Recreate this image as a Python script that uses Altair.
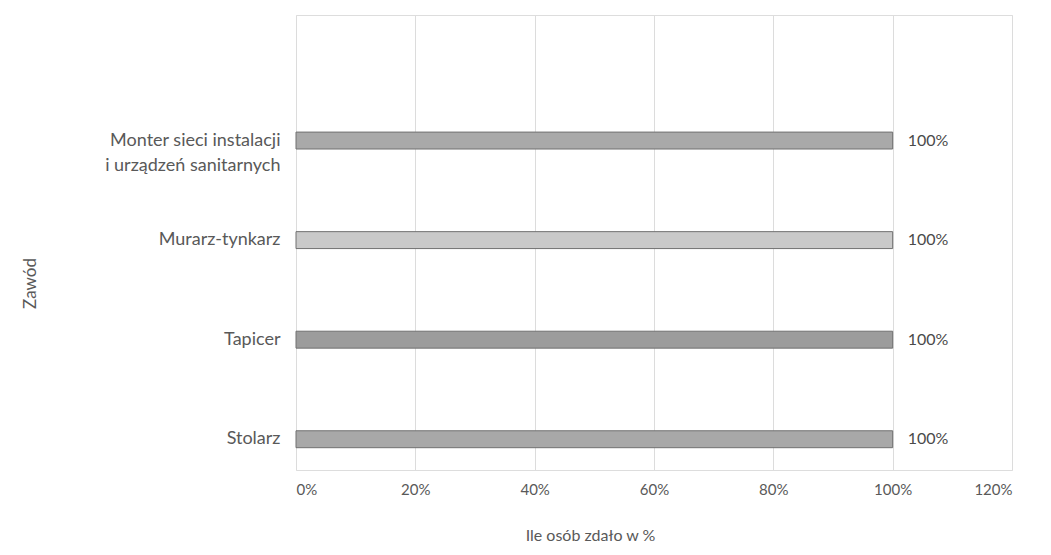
import altair as alt
import pandas as pd

categories = ["Monter sieci instalacji|i urządzeń sanitarnych", "Murarz-tynkarz", "Tapicer", "Stolarz"]
values = [1.0, 1.0, 1.0, 1.0]
bar_colors = ["#a9a9a9", "#c9c9c9", "#9c9c9c", "#a8a8a8"]
x_ticks = [0, 0.2, 0.4, 0.6, 0.8, 1.0, 1.2]

df = pd.DataFrame({"zawod": categories, "wartosc": values})

FONT = "Lato"
TXT = "#595959"

y_enc = alt.Y(
    "zawod:N",
    sort=categories,
    scale=alt.Scale(paddingInner=0.83, paddingOuter=0.7, align=0.84),
    axis=alt.Axis(
        title="Zawód",
        labelExpr="split(datum.label, '|')",
        labelFontSize=18,
        labelColor=TXT,
        labelFont=FONT,
        labelPadding=16,
        labelLineHeight=25,
        ticks=False,
        domain=False,
        grid=False,
        minExtent=288,
        maxExtent=288,
        titleX=-266,
        titleY=268,
        titleBaseline="middle",
        titleFontSize=17,
        titleFontWeight="normal",
        titleColor=TXT,
        titleFont=FONT,
    ),
)

x_enc = alt.X(
    "wartosc:Q",
    scale=alt.Scale(domain=[0, 1.2], nice=False),
    axis=alt.Axis(
        title="Ile osób zdało w %",
        values=x_ticks,
        format=".0%",
        labelFontSize=15,
        labelColor=TXT,
        labelFont=FONT,
        labelPadding=12,
        ticks=False,
        domain=False,
        grid=True,
        gridColor="#dcdcdc",
        gridWidth=1,
        titleX=294,
        titleAnchor="start",
        titleAlign="center",
        titlePadding=30,
        titleFontSize=16,
        titleFontWeight="normal",
        titleColor=TXT,
        titleFont=FONT,
    ),
)

bars = alt.Chart(df).mark_bar(stroke="#707070", strokeWidth=1).encode(
    x=x_enc,
    y=y_enc,
    color=alt.Color("zawod:N", scale=alt.Scale(domain=categories, range=bar_colors), legend=None),
)

labels = alt.Chart(df).mark_text(
    align="left", baseline="middle", dx=15, fontSize=16, font=FONT, color="#4a4a4a"
).encode(
    x=alt.X("wartosc:Q"),
    y=alt.Y("zawod:N", sort=categories),
    text=alt.Text("wartosc:Q", format=".0%"),
)

chart = (
    alt.layer(bars, labels)
    .properties(width=716, height=455, padding={"left": 0, "top": 7, "right": 5, "bottom": 5})
    .configure_view(stroke=None)
    .configure(background="white")
)

chart.save("out.html", embed_options={"renderer": "svg", "actions": False})
